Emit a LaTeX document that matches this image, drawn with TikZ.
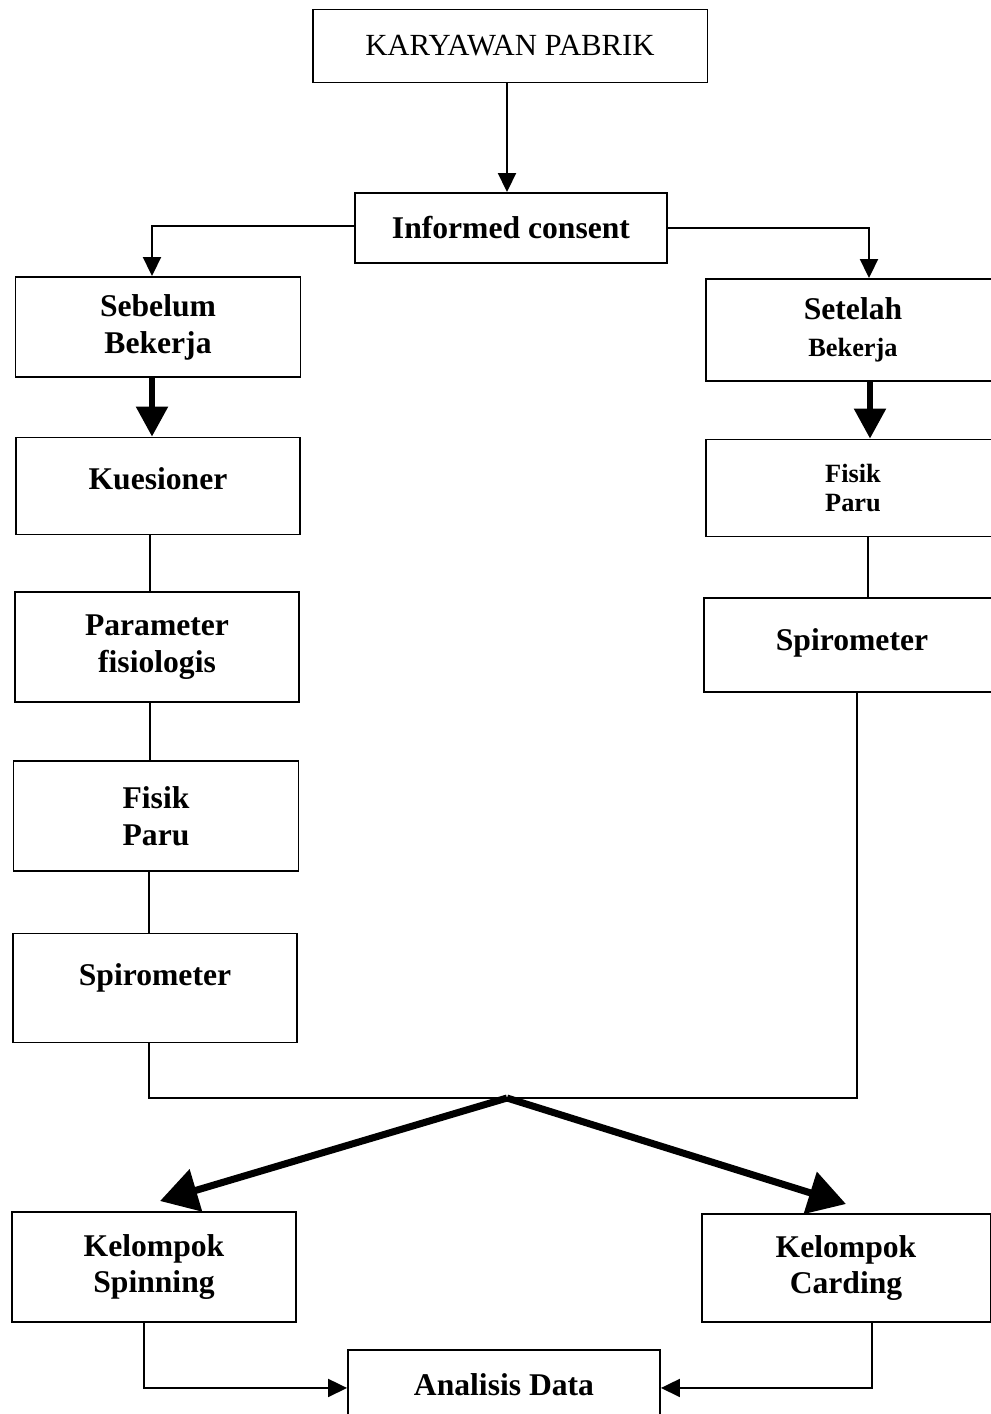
\documentclass[tikz,border=0pt]{standalone}
\usepackage{fontspec}
\setmainfont{Liberation Serif}
\usepackage{tikz}
\usetikzlibrary{shapes, arrows.meta, positioning}

\begin{document}
\begin{tikzpicture}
  [
    x=0.02cm, y=-0.02cm,
    Box/.style={rectangle, draw=black, line width=1.1pt, align=center, inner sep=2pt,
      font=\fontsize{18}{21}\selectfont\bfseries},
    Small/.style={font=\fontsize{15}{16.5}\selectfont\bfseries},
    Line/.style={draw, line width=1.1pt},
    Thin/.style={draw, line width=1.1pt, -{Triangle[width=0.36cm, length=0.38cm]}},
    Thick/.style={draw, line width=3.2pt, -{Triangle[width=0.62cm, length=0.6cm]}},
    Heavy/.style={draw, line width=4pt, -{Triangle[width=0.85cm, length=0.75cm]}}
  ]
  \useasboundingbox (0,0) rectangle (991,1414);
  \clip (0,0) rectangle (991,1414);

  % Nodes
  \node[Box, font=\fontsize{17.5}{21}\selectfont, minimum width=7.9cm, minimum height=1.46cm] (kp) at(510, 46) {KARYAWAN PABRIK};

  \node[Box, minimum width=6.24cm, minimum height=1.4cm] (ic) at(511, 228) {Informed consent};

  \node[Box, minimum width=5.7cm, minimum height=2cm] (sb) at(158, 327) {Sebelum\\Bekerja};
  \node[Box, minimum width=5.68cm, minimum height=1.94cm, text depth=0.3cm] (ks) at(158, 486) {Kuesioner};
  \node[Box, minimum width=5.68cm, minimum height=2.2cm] (pf) at(157, 647) {Parameter\\fisiologis};
  \node[Box, minimum width=5.7cm, minimum height=2.2cm] (fp1) at(156, 816) {Fisik\\Paru};
  \node[Box, minimum width=5.68cm, minimum height=2.18cm, text depth=0.55cm] (sp1) at(155, 988) {Spirometer};

  \node[Box, minimum width=5.88cm, minimum height=2.04cm] (st) at(853, 330) {Setelah\\{\fontsize{15}{17}\selectfont Bekerja}};
  \node[Box, Small, minimum width=5.9cm, minimum height=1.94cm] (fp2) at(853, 488) {Fisik\\Paru};
  \node[Box, minimum width=5.92cm, minimum height=1.88cm, text depth=0.2cm] (sp2) at(852, 645) {Spirometer};

  \node[Box, minimum width=5.68cm, minimum height=2.2cm] (kl1) at(154, 1267) {Kelompok\\Spinning};
  \node[Box, minimum width=5.78cm, minimum height=2.16cm] (kl2) at(846, 1268) {Kelompok\\Carding};

  \node[Box, anchor=north, minimum width=6.24cm, minimum height=1.4cm] (ad) at(504, 1349) {Analisis Data};

  \coordinate (m) at(507, 1098);
  \coordinate (a1) at(160, 1201);
  \coordinate (a2) at(846, 1204);

  % Lines
  \path [Thin] ([xshift=-0.06cm]kp.south) -- ([xshift=-0.06cm]kp.south |- ic.north);
  \path [Thin] ([yshift=0.04cm]ic.west) -| ([xshift=-0.12cm]sb.north);
  \path [Thin] (ic.east) -| ([xshift=0.32cm]st.north);

  \path [Thick] ([xshift=-0.12cm]sb.south) -- ([xshift=-0.12cm]sb.south |- ks.north);
  \path [Line] ([xshift=-0.16cm]ks.south) -- ([xshift=-0.16cm]ks.south |- pf.north);
  \path [Line] ([xshift=-0.14cm]pf.south) -- ([xshift=-0.14cm]pf.south |- fp1.north);
  \path [Line] ([xshift=-0.14cm]fp1.south) -- ([xshift=-0.14cm]fp1.south |- sp1.north);

  \path [Thick] ([xshift=0.34cm]st.south) -- ([xshift=0.34cm]st.south |- fp2.north);
  \path [Line] ([xshift=0.3cm]fp2.south) -- ([xshift=0.3cm]fp2.south |- sp2.north);

  \path [Line] ([xshift=-0.12cm]sp1.south) |- (m) -| ([xshift=0.1cm]sp2.south);
  \path [Heavy] (m) -- (a1);
  \path [Heavy] (m) -- (a2);

  \path [Thin] ([xshift=-0.2cm]kl1.south) |- ([yshift=-0.06cm]ad.west);
  \path [Thin] ([xshift=0.52cm]kl2.south) |- ([yshift=-0.06cm]ad.east);

\end{tikzpicture}
\end{document}
